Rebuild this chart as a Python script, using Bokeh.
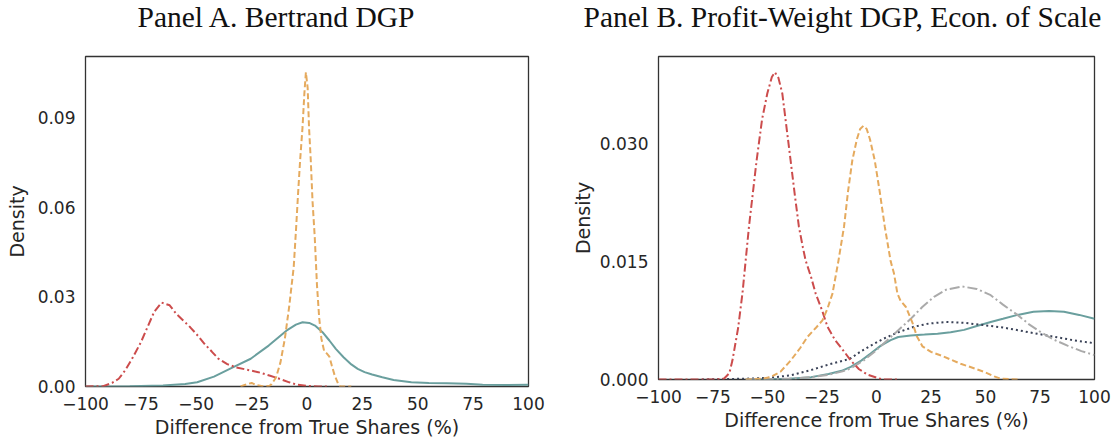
import numpy as np
from bokeh.plotting import figure
from bokeh.models import Title, FixedTicker, NumeralTickFormatter, Range1d
from bokeh.layouts import row
from bokeh.embed import file_html
from bokeh.resources import INLINE

# ---------------- data ----------------
x_ticks = [-100, -75, -50, -25, 0, 25, 50, 75, 100]
x_tick_labels = ["\u2212100", "\u221275", "\u221250", "\u221225", "0", "25", "50", "75", "100"]

# Panel A
a_y_ticks = [0.0, 0.03, 0.06, 0.09]
a_red_x = [-100, -92, -88, -85, -82, -78.6, -75, -72, -69, -65.7, -62, -59, -56, -52.8, -49, -46.3,
           -43, -40, -36, -32, -27, -22, -17, -12.5, -8, -4.5, 0, 5, 10]
a_red_y = [0, 0.0001, 0.0012, 0.0026, 0.0055, 0.0098, 0.0148, 0.0199, 0.0250, 0.0281, 0.0272,
           0.0243, 0.0222, 0.0199, 0.0168, 0.0143, 0.0117, 0.0093, 0.0075, 0.0064, 0.0056, 0.0048,
           0.0037, 0.0026, 0.0014, 0.0006, 0.0002, 0.0, 0.0]
a_orange_x = [-30, -27, -25, -23, -20, -17, -16, -14, -12, -10, -8, -6, -5, -4, -3.1, -2, -1.2, -0.5,
              0.3, 0.9, 1.7, 2.5, 3.5, 4.5, 5.5, 6.5, 7.7, 9, 10.1, 11.2, 12.5, 14, 15, 20]
a_orange_y = [0, 0.0008, 0.0012, 0.0005, 0.0001, 0.0002, 0.0008, 0.003, 0.008, 0.016, 0.027, 0.040,
              0.052, 0.065, 0.0758, 0.087, 0.098, 0.1052, 0.100, 0.087, 0.0758, 0.062, 0.050, 0.034,
              0.023, 0.016, 0.012, 0.011, 0.010, 0.007, 0.0037, 0.001, 0.0, 0.0]
a_teal_x = [-100, -80, -65, -55, -49.6, -42, -33.5, -25.4, -17.3, -9.3, -5, -2, 1, 3.6, 7, 10.1, 13,
            16.5, 20, 22.9, 26, 29.4, 34, 39.1, 47.1, 55, 63.2, 72, 79.3, 90, 100]
a_teal_y = [0, 0.0001, 0.0003, 0.0008, 0.0014, 0.0033, 0.0064, 0.0093, 0.0137, 0.0187, 0.0207,
            0.0215, 0.0213, 0.0204, 0.0182, 0.0154, 0.0126, 0.0098, 0.0074, 0.0059, 0.0048, 0.0040,
            0.0031, 0.0022, 0.0014, 0.0012, 0.0011, 0.0009, 0.0006, 0.0005, 0.0006]

# Panel B
b_y_ticks = [0.0, 0.015, 0.030]
b_red_x = [-100, -75, -70, -67.5, -66.1, -63.5, -61.5, -58.5, -55, -52.5, -50.1, -48, -46.6, -45,
           -43.2, -41.5, -39.4, -37.5, -35.6, -33.8, -32.5, -30, -27.9, -25, -22.5, -19, -15, -11.8,
           -8, -4, 0.4, 3, 10]
b_red_y = [0, 0, 0.0001, 0.0008, 0.0024, 0.0065, 0.0109, 0.0194, 0.0278, 0.0330, 0.0363, 0.0384,
           0.0390, 0.0383, 0.0363, 0.0325, 0.0278, 0.0235, 0.0194, 0.0168, 0.0151, 0.0130, 0.0109,
           0.0088, 0.0067, 0.0050, 0.0036, 0.0024, 0.0013, 0.0006, 0.0002, 0.0, 0.0]
b_orange_x = [-60, -52, -48.6, -44, -39.4, -35, -31.7, -28, -24.8, -22.5, -20.2, -17.5, -14.9, -13,
              -11.1, -9, -7.5, -6, -4.5, -3, -0.8, 1.5, 3.8, 6.5, 8, 9.6, 11, 13.5, 16.5, 18.5, 21.1,
              25, 30, 38.6, 45, 50, 54, 57, 65]
b_orange_y = [0, 0.0001, 0.0003, 0.0010, 0.0024, 0.0040, 0.0054, 0.0065, 0.0075, 0.0090, 0.0109,
              0.0150, 0.0194, 0.0240, 0.0278, 0.0305, 0.0318, 0.0322, 0.0318, 0.0305, 0.0278, 0.0238,
              0.0194, 0.0150, 0.0135, 0.0109, 0.0100, 0.0092, 0.0072, 0.0055, 0.0042, 0.0035, 0.0030,
              0.0020, 0.0014, 0.0009, 0.0004, 0.0001, 0.0]
b_gray_x = [-60, -40, -30, -22, -16, -11.9, -6, -1, 3.4, 9, 15.7, 21, 26.4, 32, 39.4, 46, 52.4, 58,
            64.7, 70, 75.4, 81, 87.6, 94, 100]
b_gray_y = [0, 0.0001, 0.0003, 0.0006, 0.0010, 0.0014, 0.0024, 0.0035, 0.0046, 0.0060, 0.0077,
            0.0092, 0.0105, 0.0114, 0.0118, 0.0115, 0.0107, 0.0095, 0.0082, 0.0070, 0.0060, 0.0051,
            0.0043, 0.0036, 0.0031]
b_navy_x = [-80, -60, -50, -40, -30, -22, -15, -11.8, -7, -2, 3.4, 10, 17.2, 24, 31.8, 40, 49.3, 58,
            66, 73.8, 82, 90, 100]
b_navy_y = [0, 0.0001, 0.0002, 0.0005, 0.0012, 0.0019, 0.0024, 0.0027, 0.0036, 0.0044, 0.0052,
            0.0060, 0.0067, 0.0071, 0.0073, 0.0072, 0.0069, 0.0066, 0.0062, 0.0058, 0.0054, 0.0050,
            0.0046]
b_teal_x = [-60, -40, -30, -22, -16, -11.8, -7, -2.7, 2, 6.5, 10, 15.7, 22, 28, 34, 40.2, 46, 52.4,
            58, 64.7, 72, 79.2, 86, 93, 100]
b_teal_y = [0, 0.0001, 0.0003, 0.0007, 0.0011, 0.0016, 0.0024, 0.0033, 0.0043, 0.0050, 0.0054,
            0.0056, 0.0057, 0.0058, 0.0060, 0.0063, 0.0068, 0.0073, 0.0077, 0.0082, 0.0086, 0.0087,
            0.0086, 0.0082, 0.0077]

# ---------------- styling ----------------
C_TEAL = "#6a9f9e"
C_RED = "#cc4c4c"
C_ORANGE = "#e5aa5e"
C_GRAY = "#aaaaaa"
C_NAVY = "#3a4257"
TXT = "#262626"
SANS = "DejaVu Sans"
SERIF = "Liberation Serif"


def make_fig(title, title_off, frame_w, frame_h, bl, br, bb, ymax, yticks, yfmt, ylab_standoff):
    p = figure(frame_width=frame_w, frame_height=frame_h,
               min_border_left=bl, min_border_right=br, min_border_top=56, min_border_bottom=bb,
               x_range=Range1d(-100, 100), y_range=Range1d(0, ymax),
               output_backend="svg", toolbar_location=None, title=None)
    # blank spacer between the panel title and the frame
    p.add_layout(Title(text=" ", standoff=0, text_font=SERIF, text_font_size="18px"), "above")
    p.add_layout(Title(text=title, align="left", offset=title_off, vertical_align="top",
                       standoff=0, text_font=SERIF, text_font_size="29.5px",
                       text_font_style="normal", text_color="#111111"), "above")
    p.background_fill_color = "white"
    p.border_fill_color = "white"
    p.outline_line_color = "#333333"
    p.outline_line_width = 1.3
    p.grid.visible = False
    for ax in (p.xaxis[0], p.yaxis[0]):
        ax.axis_line_color = None
        ax.major_tick_line_color = None
        ax.minor_tick_line_color = None
        ax.major_tick_out = 0
        ax.major_tick_in = 0
        ax.major_label_text_font = SANS
        ax.major_label_text_font_size = "17px"
        ax.major_label_text_color = TXT
        ax.axis_label_text_font = SANS
        ax.axis_label_text_font_size = "19px"
        ax.axis_label_text_font_style = "normal"
        ax.axis_label_text_color = TXT
        ax.major_label_standoff = 10
    p.xaxis.axis_label_standoff = 3
    p.yaxis.axis_label_standoff = ylab_standoff
    p.xaxis.ticker = FixedTicker(ticks=x_ticks)
    p.xaxis.major_label_overrides = {float(k): v for k, v in zip(x_ticks, x_tick_labels)}
    p.xaxis.axis_label = "Difference from True Shares (%)"
    p.yaxis.ticker = FixedTicker(ticks=yticks)
    p.yaxis.formatter = NumeralTickFormatter(format=yfmt)
    p.yaxis.axis_label = "Density"
    return p


pa = make_fig("Panel A. Bertrand DGP", 52, 443, 330, 85, 40, 55, 0.1105, a_y_ticks, "0.00", 7)
pa.line(a_teal_x, a_teal_y, line_color=C_TEAL, line_width=2)
pa.line(a_red_x, a_red_y, line_color=C_RED, line_width=2, line_dash="8 3 2 3")
pa.line(a_orange_x, a_orange_y, line_color=C_ORANGE, line_width=2, line_dash="6 3")

pb = make_fig("Panel B. Profit-Weight DGP, Econ. of Scale", -75, 436, 323, 90, 20, 60,
              0.0410, b_y_ticks, "0.000", 3)
pb.line(b_teal_x, b_teal_y, line_color=C_TEAL, line_width=2)
pb.line(b_navy_x, b_navy_y, line_color=C_NAVY, line_width=2, line_dash="2 3")
pb.line(b_gray_x, b_gray_y, line_color=C_GRAY, line_width=2, line_dash="10 3 2 3")
pb.line(b_red_x, b_red_y, line_color=C_RED, line_width=2, line_dash="8 3 2 3")
pb.line(b_orange_x, b_orange_y, line_color=C_ORANGE, line_width=2, line_dash="6 3")

layout = row(pa, pb, spacing=0)
open("out.html", "w").write(file_html(layout, INLINE))
